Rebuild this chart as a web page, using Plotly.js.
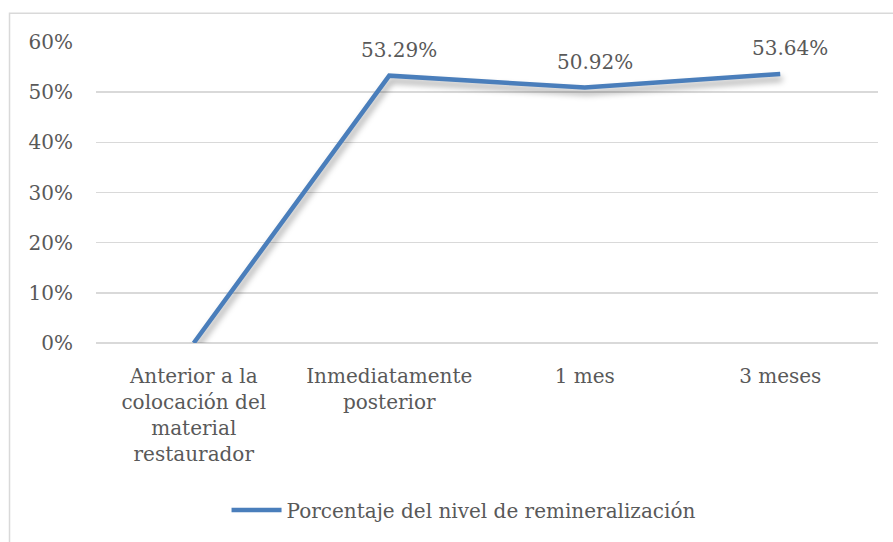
<!DOCTYPE html>
<html>
<head>
<meta charset="utf-8">
<script src="https://cdn.plot.ly/plotly-3.0.1.min.js"></script>
<style>
html,body{margin:0;padding:0;background:#fff;}
#chart{width:893px;height:542px;}
</style>
</head>
<body>
<div id="chart"></div>
<script>
var categories = ["Anterior a la<br>colocación del<br>material<br>restaurador", "Inmediatamente<br>posterior", "1 mes", "3 meses"];
var values = [0, 0.5329, 0.5092, 0.5364];
var labels = ["", "53.29%", "50.92%", "53.64%"];
var seriesName = "Porcentaje del nivel de remineralización";
var yTickVals = [0, 0.1, 0.2, 0.3, 0.4, 0.5, 0.6];
var yTickText = ["0%", "10%", "20%", "30%", "40%", "50%", "60%"];

var FONT = "DejaVu Serif, Liberation Serif, serif";
var GRAY = "#595959";

var trace = {
  x: [0, 1, 2, 3],
  y: values,
  type: "scatter",
  mode: "lines",
  name: seriesName,
  line: {color: "#4a7ebb", width: 4.5},
  hoverinfo: "skip"
};

var annotations = [];
for (var i = 0; i < values.length; i++) {
  if (!labels[i]) continue;
  annotations.push({
    x: i, y: values[i], xref: "x", yref: "y",
    text: labels[i], showarrow: false,
    xanchor: "center", yanchor: "middle",
    xshift: 10, yshift: 26,
    font: {family: FONT, size: 20, color: GRAY}
  });
}

var layout = {
  width: 893, height: 542,
  margin: {l: 96, r: 15, t: 42, b: 197},
  paper_bgcolor: "#fff", plot_bgcolor: "#fff",
  showlegend: true,
  legend: {
    x: 0.47, xanchor: "center", y: -0.555, yanchor: "middle",
    orientation: "h",
    font: {family: FONT, size: 20, color: GRAY},
    itemwidth: 50
  },
  xaxis: {
    range: [-0.5, 3.5],
    tickvals: [0, 1, 2, 3],
    ticktext: categories,
    showgrid: false, zeroline: false, showline: false,
    ticks: "outside", ticklen: 15, tickcolor: "rgba(0,0,0,0)",
    tickfont: {family: FONT, size: 20, color: GRAY},
    automargin: false,
    fixedrange: true
  },
  yaxis: {
    range: [0, 0.6],
    tickvals: yTickVals, ticktext: yTickText,
    showgrid: true, gridcolor: "#d9d9d9", gridwidth: 1.5,
    zeroline: true, zerolinecolor: "#d9d9d9", zerolinewidth: 1.5,
    showline: false,
    ticks: "outside", ticklen: 18, tickcolor: "rgba(0,0,0,0)",
    tickfont: {family: FONT, size: 20, color: GRAY},
    automargin: false,
    fixedrange: true
  },
  annotations: annotations,
  shapes: [{
    type: "rect", xref: "paper", yref: "paper",
    x0: -0.1106, x1: 1.2, y0: -0.8, y1: 1.0957,
    line: {color: "#d9d9d9", width: 1.5}, fillcolor: "rgba(0,0,0,0)", layer: "below"
  }]
};

Plotly.newPlot("chart", [trace], layout, {displayModeBar: false, staticPlot: true}).then(function(){
  var paths = document.querySelectorAll(".scatterlayer .trace path.js-line");
  paths.forEach(function(p){
    p.style.filter = "drop-shadow(2px 5px 3px rgba(0,0,0,0.35))";
  });
});
</script>
</body>
</html>
